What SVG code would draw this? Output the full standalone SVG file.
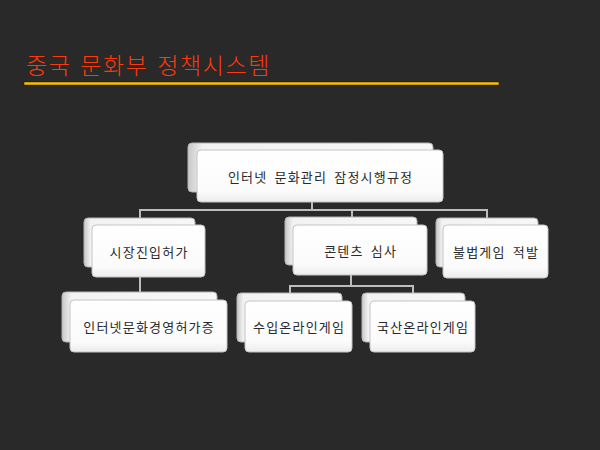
<svg xmlns="http://www.w3.org/2000/svg" width="600" height="450" viewBox="0 0 600 450">
<defs>
<linearGradient id="gBack" x1="0" y1="0" x2="1" y2="0">
<stop offset="0" stop-color="#c8c8c8"/>
<stop offset="0.06" stop-color="#f2f2f2"/>
<stop offset="1" stop-color="#f7f7f7"/>
</linearGradient>
<linearGradient id="gFront" x1="0" y1="0" x2="0" y2="1">
<stop offset="0" stop-color="#ffffff"/>
<stop offset="0.8" stop-color="#fbfbfb"/>
<stop offset="1" stop-color="#ececec"/>
</linearGradient>
<style>
.back{fill:url(#gBack);stroke:#b4b4b4;stroke-width:1}
.front{fill:url(#gFront);stroke:#c4c4c4;stroke-width:1}
.lbl{font-family:"Noto Sans CJK KR","Noto Sans",sans-serif;font-size:13px;font-weight:400;letter-spacing:1.2px;word-spacing:3px;fill:#2a2a2a;text-anchor:middle;dominant-baseline:central}
.conn{stroke:#bdbdbd;stroke-width:2;fill:none}
</style>
</defs>
<rect x="0" y="0" width="600" height="450" fill="#292929"/>
<g id="title">
<text x="26" y="74" font-family="'Noto Sans CJK KR','Noto Sans',sans-serif" font-size="23" font-weight="300" letter-spacing="1.6" word-spacing="2" fill="#ff3a0a">중국 문화부 정책시스템</text>
<rect x="24" y="82" width="475" height="3" fill="#ffc000" stroke="#1a1a1a" stroke-width="0.5"/>
</g>
<g id="connectors">
<path class="conn" d="M312,202 V210 M140,218 V210 H487 V218 M352,210 V217"/>
<path class="conn" d="M140,277 V292"/>
<path class="conn" d="M351,275 V286 M290,293 V286 H413 V293"/>
</g>
<g id="node-root">
<rect class="back" x="188" y="143" width="245" height="49" rx="4"/>
<rect class="front" x="197" y="150" width="246" height="52" rx="4"/>
<text class="lbl" x="320.6" y="176">인터넷 문화관리 잠정시행규정</text>
</g>
<g id="node-market">
<rect class="back" x="84" y="218" width="111" height="49" rx="4"/>
<rect class="front" x="92" y="225" width="113" height="52" rx="4"/>
<text class="lbl" x="149.1" y="251">시장진입허가</text>
</g>
<g id="node-content">
<rect class="back" x="285" y="217" width="132" height="48" rx="4"/>
<rect class="front" x="293" y="225" width="134" height="50" rx="4"/>
<text class="lbl" x="360.6" y="250">콘텐츠 심사</text>
</g>
<g id="node-illegal">
<rect class="back" x="436" y="218" width="102" height="49" rx="4"/>
<rect class="front" x="443" y="225" width="105" height="53" rx="4"/>
<text class="lbl" x="496.1" y="251">불법게임 적발</text>
</g>
<g id="node-license">
<rect class="back" x="62" y="292" width="155" height="50" rx="4"/>
<rect class="front" x="70" y="300" width="157" height="52" rx="4"/>
<text class="lbl" x="149.1" y="326">인터넷문화경영허가증</text>
</g>
<g id="node-import">
<rect class="back" x="237" y="293" width="105" height="49" rx="4"/>
<rect class="front" x="245" y="301" width="107" height="51" rx="4"/>
<text class="lbl" x="299.1" y="326">수입온라인게임</text>
</g>
<g id="node-domestic">
<rect class="back" x="362" y="293" width="103" height="49" rx="4"/>
<rect class="front" x="370" y="301" width="105" height="51" rx="4"/>
<text class="lbl" x="423.1" y="326">국산온라인게임</text>
</g>
</svg>
